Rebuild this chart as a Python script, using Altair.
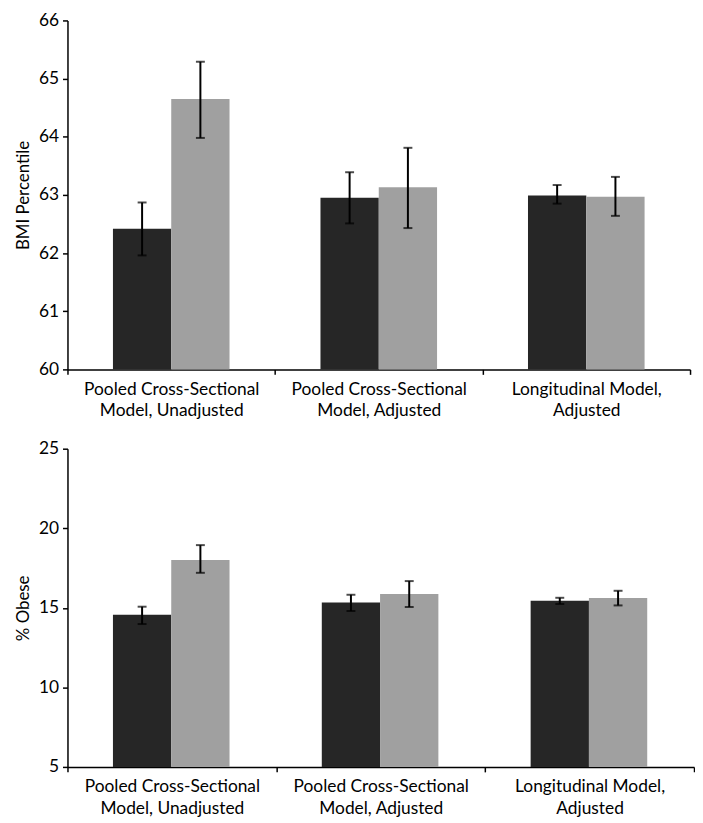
import altair as alt
import pandas as pd

categories = [
    "Pooled Cross-Sectional|Model, Unadjusted",
    "Pooled Cross-Sectional|Model, Adjusted",
    "Longitudinal Model,|Adjusted",
]
series = ["Series 1", "Series 2"]

# BMI percentile panel
bmi_s1 = [62.42, 62.95, 62.99]
bmi_s1_lo = [61.96, 62.51, 62.85]
bmi_s1_hi = [62.87, 63.39, 63.17]
bmi_s2 = [64.65, 63.13, 62.97]
bmi_s2_lo = [63.98, 62.43, 62.64]
bmi_s2_hi = [65.29, 63.81, 63.31]

# % obese panel
ob_s1 = [14.57, 15.34, 15.45]
ob_s1_lo = [13.98, 14.80, 15.24]
ob_s1_hi = [15.07, 15.82, 15.63]
ob_s2 = [18.00, 15.87, 15.62]
ob_s2_lo = [17.20, 15.05, 15.15]
ob_s2_hi = [18.94, 16.68, 16.07]

colors = ["#262626", "#a0a0a0"]


def frame(v1, l1, h1, v2, l2, h2):
    rows = []
    for i, c in enumerate(categories):
        rows.append({"cat": c, "series": series[0], "v": v1[i], "lo": l1[i], "hi": h1[i]})
        rows.append({"cat": c, "series": series[1], "v": v2[i], "lo": l2[i], "hi": h2[i]})
    return pd.DataFrame(rows)


def panel(df, ymin, ymax, ticks, title, width, height, titlepad):
    x = alt.X(
        "cat:N",
        sort=categories,
        scale=alt.Scale(paddingInner=0, paddingOuter=0),
        axis=alt.Axis(
            title=None,
            labelAngle=0,
            tickBand="extent",
            labelExpr="split(datum.label, '|')",
            labelLineHeight=22,
            labelPadding=6,
            labelLimit=400,
            labelBaseline="top",
        ),
    )
    xo = alt.XOffset(
        "series:N",
        sort=series,
        scale=alt.Scale(paddingOuter=0.78, paddingInner=0),
    )
    yscale = alt.Scale(domain=[ymin, ymax], zero=False, nice=False)
    base = alt.Chart(df)
    bars = base.mark_bar().encode(
        x=x,
        xOffset=xo,
        y=alt.Y(
            "v:Q",
            scale=yscale,
            axis=alt.Axis(values=ticks, format="d", title=title,
                          titlePadding=titlepad, labelPadding=4),
        ),
        y2=alt.datum(ymin),
        color=alt.Color("series:N", scale=alt.Scale(domain=series, range=colors), legend=None),
    )
    rules = base.mark_rule(color="black", strokeWidth=2).encode(
        x=x, xOffset=xo, y=alt.Y("lo:Q", scale=yscale), y2="hi:Q"
    )
    cap_lo = base.mark_tick(color="black", thickness=2, size=9).encode(
        x=x, xOffset=xo, y=alt.Y("lo:Q", scale=yscale)
    )
    cap_hi = base.mark_tick(color="black", thickness=2, size=9).encode(
        x=x, xOffset=xo, y=alt.Y("hi:Q", scale=yscale)
    )
    return alt.layer(bars, rules, cap_lo, cap_hi).properties(width=width, height=height)


top = panel(frame(bmi_s1, bmi_s1_lo, bmi_s1_hi, bmi_s2, bmi_s2_lo, bmi_s2_hi),
            60, 66, [60, 61, 62, 63, 64, 65, 66], "BMI Percentile", 628, 352, 6)
bottom = panel(frame(ob_s1, ob_s1_lo, ob_s1_hi, ob_s2, ob_s2_lo, ob_s2_hi),
               5, 25, [5, 10, 15, 20, 25], "% Obese", 632, 321, 6)

chart = (
    alt.vconcat(top, bottom, spacing=20)
    .properties(padding={"left": 6, "top": 0, "right": 0, "bottom": 0})
    .configure_view(stroke=None)
    .configure_axis(
        labelFont="Lato",
        labelFontSize=17.5,
        labelColor="black",
        titleFont="Lato",
        titleFontSize=17,
        titleFontWeight="normal",
        titleColor="black",
        domainColor="black",
        domainWidth=1.5,
        tickColor="black",
        tickWidth=1.5,
        tickSize=5,
        grid=False,
    )
)

chart.save("out.html", embed_options={"renderer": "svg", "actions": False})
